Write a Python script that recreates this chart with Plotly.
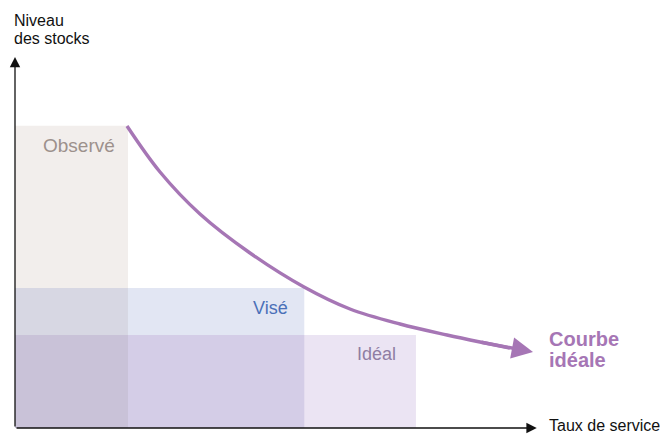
import plotly.graph_objects as go

# Zones (data units: x 0-100, y 0-100)
zone_names = ["Observé", "Visé", "Idéal"]
zone_x_max = [17.3, 44.3, 61.4]
zone_y_max = [70.6, 32.7, 21.7]
zone_colors = ["#f2eeec", "#e2e6f3", "#ebe4f3"]
zone_text_colors = ["#9d918c", "#4a70b8", "#8f7da3"]
zone_label_x = [3.98, 42.1, 58.65]
zone_label_y = [65.9, 28.0, 17.3]
# overlap colours
overlap_vise_ideal = "#d4cde7"
overlap_obs_vise = "#d7d7e3"
overlap_obs_ideal = "#c9c2d8"

# Ideal curve
curve_x = [17.15, 22.21, 28.33, 35.99, 44.26, 51.30, 58.96, 66.16, 71.21, 75.80]
curve_y = [70.56, 59.81, 50.00, 40.89, 32.94, 27.80, 24.30, 21.73, 20.09, 18.69]
arrow_tip = (79.33, 17.76)

purple = "#a676b5"
font_main = "Liberation Sans, Arial, sans-serif"

fig = go.Figure()

shapes = []
for xm, ym, c in zip(zone_x_max, zone_y_max, zone_colors):
    shapes.append(dict(type="rect", x0=0, x1=xm, y0=0, y1=ym, fillcolor=c,
                       line_width=0, layer="below"))
shapes.append(dict(type="rect", x0=0, x1=zone_x_max[1], y0=0, y1=zone_y_max[2],
                   fillcolor=overlap_vise_ideal, line_width=0, layer="below"))
shapes.append(dict(type="rect", x0=0, x1=zone_x_max[0], y0=0, y1=zone_y_max[1],
                   fillcolor=overlap_obs_vise, line_width=0, layer="below"))
shapes.append(dict(type="rect", x0=0, x1=zone_x_max[0], y0=0, y1=zone_y_max[2],
                   fillcolor=overlap_obs_ideal, line_width=0, layer="below"))

fig.add_trace(go.Scatter(x=curve_x, y=curve_y, mode="lines",
                         line=dict(color=purple, width=3.4, shape="spline", smoothing=1.0),
                         hoverinfo="skip", showlegend=False))

annotations = []
# curve arrow head
annotations.append(dict(x=arrow_tip[0], y=arrow_tip[1], ax=curve_x[-2], ay=curve_y[-2],
                        xref="x", yref="y", axref="x", ayref="y", text="",
                        showarrow=True, arrowhead=2, arrowsize=1.25, arrowwidth=3.4,
                        arrowcolor=purple, standoff=0))
# axes arrows
annotations.append(dict(x=0, y=86.7, ax=0, ay=0, xref="x", yref="y", axref="x", ayref="y",
                        text="", showarrow=True, arrowhead=2, arrowsize=1.6, arrowwidth=1.3,
                        arrowcolor="#111", standoff=0))
annotations.append(dict(x=79.9, y=0, ax=0, ay=0, xref="x", yref="y", axref="x", ayref="y",
                        text="", showarrow=True, arrowhead=2, arrowsize=1.6, arrowwidth=1.3,
                        arrowcolor="#111", standoff=0))

# zone labels
for i, name in enumerate(zone_names):
    annotations.append(dict(x=zone_label_x[i], y=zone_label_y[i], xref="x", yref="y",
                            text=name, showarrow=False,
                            xanchor="left" if i == 0 else "right", yanchor="middle",
                            font=dict(family=font_main, size=19 if i == 0 else 18,
                                      color=zone_text_colors[i])))
# curve label
annotations.append(dict(x=81.4, y=20.8, xref="x", yref="y", text="<b>Courbe</b>",
                        showarrow=False, xanchor="left", yanchor="middle",
                        font=dict(family=font_main, size=20, color=purple)))
annotations.append(dict(x=81.4, y=16.0, xref="x", yref="y", text="<b>idéale</b>",
                        showarrow=False, xanchor="left", yanchor="middle",
                        font=dict(family=font_main, size=20, color=purple)))
# axis titles
annotations.append(dict(x=0, y=95.1, xref="x", yref="y", xshift=-3, text="Niveau",
                        showarrow=False, xanchor="left", yanchor="middle",
                        font=dict(family=font_main, size=16, color="#111")))
annotations.append(dict(x=0, y=90.9, xref="x", yref="y", xshift=-3, text="des stocks",
                        showarrow=False, xanchor="left", yanchor="middle",
                        font=dict(family=font_main, size=16, color="#111")))
annotations.append(dict(x=81.5, y=0.7, xref="x", yref="y", text="Taux de service",
                        showarrow=False, xanchor="left", yanchor="middle",
                        font=dict(family=font_main, size=16, color="#111")))

# page has an 8px body margin: figure is 660x426, placed at (8, 8)
fig.update_layout(
    width=660, height=426,
    margin=dict(l=7, r=0, t=0, b=6, autoexpand=False),
    paper_bgcolor="white", plot_bgcolor="white",
    shapes=shapes, annotations=annotations,
    xaxis=dict(range=[0, 100], visible=False, fixedrange=True),
    yaxis=dict(range=[0, 98.13], visible=False, fixedrange=True),
    showlegend=False,
)

fig.write_html("out.html")
